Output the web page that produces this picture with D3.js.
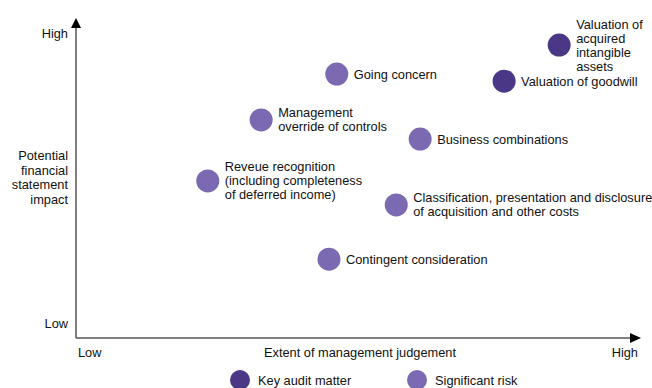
<!DOCTYPE html>
<html><head><meta charset="utf-8">
<script src="https://cdn.jsdelivr.net/npm/d3@7"></script>
<style>body{margin:0;background:#fff}svg{display:block;font-family:"Liberation Sans",Arial,sans-serif}</style>
</head><body>
<svg id="c" width="652" height="388"></svg>
<script>
const risks = [
  "Valuation of acquired intangible assets",
  "Valuation of goodwill",
  "Going concern",
  "Management override of controls",
  "Business combinations",
  "Reveue recognition (including completeness of deferred income)",
  "Classification, presentation and disclosure of acquisition and other costs",
  "Contingent consideration"
];
const labelLines = [
  ["Valuation of","acquired","intangible","assets"],
  ["Valuation of goodwill"],
  ["Going concern"],
  ["Management","override of controls"],
  ["Business combinations"],
  ["Reveue recognition","(including completeness","of deferred income)"],
  ["Classification, presentation and disclosure","of acquisition and other costs"],
  ["Contingent consideration"]
];
const judgement = [86.9, 77.0, 46.9, 33.3, 61.9, 23.7, 57.6, 45.5];
const impact = [95.1, 83.4, 85.7, 70.8, 64.6, 51.0, 43.2, 25.6];
const riskType = ["Key audit matter","Key audit matter","Significant risk","Significant risk","Significant risk","Significant risk","Significant risk","Significant risk"];
const legendItems = ["Key audit matter","Significant risk"];
const axisTickLabels = ["Low","High"];
const xTitle = "Extent of management judgement";
const yTitle = ["Potential","financial","statement","impact"];

const svg = d3.select("#c");
const x = d3.scaleLinear().domain([0,100]).range([76,632]);
const y = d3.scaleLinear().domain([0,100]).range([338,30]);
const color = d3.scaleOrdinal().domain(legendItems).range(["#4a3886","#7b69b2"]);

// axes
const axisColor = "#555";
svg.append("line").attr("x1",x(0)).attr("x2",x(0)).attr("y1",y(0)).attr("y2",26)
  .attr("stroke",axisColor).attr("stroke-width",1.5);
svg.append("line").attr("x1",x(0)).attr("x2",632).attr("y1",y(0)).attr("y2",y(0))
  .attr("stroke",axisColor).attr("stroke-width",1.5);
svg.append("path").attr("d",`M${x(0)-5},${28} L${x(0)},${18} L${x(0)+5},${28} Z`).attr("fill","#000");
svg.append("path").attr("d",`M630,${y(0)-5} L641,${y(0)} L630,${y(0)+5} Z`).attr("fill","#000");

const fs = 12.8;
// y tick labels
svg.append("text").attr("x",68).attr("y",y(100)+8).attr("text-anchor","end").attr("font-size",fs).attr("fill","#111").text(axisTickLabels[1]);
svg.append("text").attr("x",68).attr("y",y(0)-10).attr("text-anchor","end").attr("font-size",fs).attr("fill","#111").text(axisTickLabels[0]);
// y title
const yt = svg.append("text").attr("text-anchor","end").attr("font-size",fs).attr("fill","#111");
yTitle.forEach((t,i)=>yt.append("tspan").attr("x",68).attr("y",160+i*14.7).text(t));
// x tick labels
svg.append("text").attr("x",78).attr("y",357).attr("font-size",fs).attr("fill","#111").text(axisTickLabels[0]);
svg.append("text").attr("x",638).attr("y",357).attr("text-anchor","end").attr("font-size",fs).attr("fill","#111").text(axisTickLabels[1]);
svg.append("text").attr("x",360).attr("y",357).attr("text-anchor","middle").attr("font-size",fs).attr("fill","#111").text(xTitle);

// points
const g = svg.append("g").selectAll("g").data(risks).join("g");
g.append("circle")
  .attr("cx",(d,i)=>x(judgement[i])).attr("cy",(d,i)=>y(impact[i])).attr("r",11.5)
  .attr("fill",(d,i)=>color(riskType[i]));
g.append("text").attr("font-size",fs).attr("fill","#111")
  .each(function(d,i){
    const lines = labelLines[i];
    const t = d3.select(this);
    const lh = 14;
    const y0 = y(impact[i]) - (lines.length-1)*lh/2 + 4.5;
    lines.forEach((l,j)=>t.append("tspan").attr("x",x(judgement[i])+17).attr("y",y0+j*lh).text(l));
  });

// legend
const lg = svg.append("g").selectAll("g").data(legendItems).join("g")
  .attr("transform",(d,i)=>`translate(${[240,417][i]},380)`);
lg.append("circle").attr("r",10).attr("fill",d=>color(d));
lg.append("text").attr("x",18).attr("y",4.5).attr("font-size",fs).attr("fill","#111").text(d=>d);
</script>
</body></html>
